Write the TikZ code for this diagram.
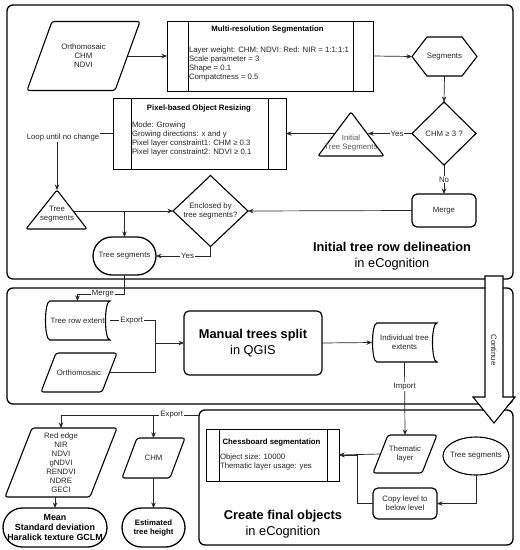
\documentclass[tikz,border=0pt]{standalone}
\usepackage{fontspec}
\setmainfont{Liberation Sans}
\usetikzlibrary{shapes.geometric,arrows.meta}
\begin{document}
\begin{tikzpicture}[x=1pt,y=-1pt,
  every node/.style={inner sep=0pt, outer sep=0pt},
  small/.style={font=\fontsize{7.8}{9}\selectfont, text=black!85},
  smallb/.style={font=\fontsize{7.8}{9}\selectfont\bfseries, text=black},
  big/.style={font=\fontsize{12.8}{16}\selectfont, text=black},
  panel/.style={draw, line width=1.3pt, rounded corners=6pt, fill=white},
  box/.style={draw, line width=0.8pt},
  shp/.style={draw, line width=1.1pt},
  para/.style={draw, line width=1.1pt, rounded corners=2.5pt},
  term/.style={draw, line width=1.3pt, rounded corners=19pt},
  conn/.style={draw=black!85, line width=0.7pt},
  arr/.style={conn, -{Stealth[length=5.5pt,width=4.5pt]}},
  lbl/.style={small, fill=white, inner sep=1pt},
]
\useasboundingbox (0,0) rectangle (520,550);

% ---------- panels ----------
\node[panel, minimum width=506pt, minimum height=274pt] (p1) at (260,142) {};
\node[panel, minimum width=506pt, minimum height=116pt] (p2) at (260,346) {};
\node[panel, minimum width=314pt, minimum height=135pt] (p3) at (356,477.5) {};

% ---------- continue arrow ----------
\draw[line width=1.1pt, fill=white] (485,276) -- (485,397) -- (473,397) -- (494,423) -- (515,397) -- (503,397) -- (503,276) -- cycle;
\node[small, rotate=-90] (cont) at (494,350) {Continue};

% ---------- panel 1 ----------
\node[small, align=center, minimum width=113pt, minimum height=69pt] (ortho) at (83.5,56) {Orthomosaic\\CHM\\NDVI};
\draw[para] ([xshift=25pt]ortho.north west) -- (ortho.north east) -- ([xshift=-25pt]ortho.south east) -- (ortho.south west) -- cycle;

\node[box, minimum width=206pt, minimum height=70pt] (mrs) at (270,56) {};
\draw[box] ([xshift=21pt]mrs.north west) -- ([xshift=21pt]mrs.south west)
           ([xshift=-20pt]mrs.north east) -- ([xshift=-20pt]mrs.south east);
\node[smallb, anchor=north] (mrsT) at (267.5,26) {Multi-resolution Segmentation};
\node[small, align=left, anchor=north west] (mrsB) at (189,46.5) {Layer weight: CHM: NDVI: Red: NIR = 1:1:1:1\\Scale parameter = 3\\Shape = 0.1\\Compatctness = 0.5};

\node[small, minimum width=65pt, minimum height=39pt] (hex) at (444.5,56.5) {Segments};
\draw[shp] (hex.west) -- ([xshift=15pt]hex.north west) -- ([xshift=-15pt]hex.north east) -- (hex.east) -- ([xshift=-15pt]hex.south east) -- ([xshift=15pt]hex.south west) -- cycle;

\node[shp, diamond, aspect=1, minimum width=64pt, minimum height=63pt, small] (chm) at (444,133.5) {CHM ≥ 3 ?};

\coordinate (tri1T) at (351,112);
\coordinate (tri1R) at (384,156);
\coordinate (tri1L) at (318,156);
\coordinate (tri1E) at (368,133.5);
\coordinate (tri1W) at (334,133.5);
\draw[shp, rounded corners=2pt] (tri1T) -- (tri1R) -- (tri1L) -- cycle;
\node[small, text=black!65, align=center] (tri1) at (351,142.5) {Initial\\Tree Segments};

\node[box, minimum width=173pt, minimum height=71pt] (pix) at (199.5,133.5) {};
\draw[box] ([xshift=18pt]pix.north west) -- ([xshift=18pt]pix.south west)
           ([xshift=-18pt]pix.north east) -- ([xshift=-18pt]pix.south east);
\node[smallb, anchor=north] (pixT) at (199,105) {Pixel-based Object Resizing};
\node[small, align=left, anchor=north west] (pixB) at (132,122) {Mode: Growing\\Growing directions: x and y\\Pixel layer constraint1: CHM ≥ 0.3\\Pixel layer constraint2: NDVI ≥ 0.1};

\coordinate (tri2T) at (57,190);
\coordinate (tri2R) at (87,229);
\coordinate (tri2L) at (26,229);
\coordinate (tri2E) at (74,211);
\draw[shp, rounded corners=2pt] (tri2T) -- (tri2R) -- (tri2L) -- cycle;
\node[small, align=center] (tri2) at (57,214.5) {Tree\\segments};

\node[shp, diamond, aspect=1, minimum width=75pt, minimum height=71pt, small, align=center] (encl) at (210.5,211) {Enclosed by\\tree segments?};

\node[shp, line width=1.2pt, rounded corners=5pt, minimum width=64pt, minimum height=33pt, small] (merge) at (444,210.5) {Merge};

\node[term, minimum width=63pt, minimum height=38pt, small] (term1) at (124.5,256) {Tree segments};

\node[big, align=center] (t1) at (392,256) {\textbf{Initial tree row delineation}\\in eCognition};

% connectors panel 1
\draw[arr] ([xshift=-12.5pt]ortho.east) -- (mrs.west);
\draw[arr] (mrs.east) -- (hex.west);
\draw[arr] (hex.south) -- (chm.north);
\draw[arr] (chm.west) -- node[lbl, pos=0.34]{Yes} (tri1E);
\draw[arr] (tri1W) -- (pix.east);
\draw[arr] (chm.south) -- node[lbl]{No} (merge.north);
\draw[arr] (merge.west) -- (encl.east);
\draw[arr] (pix.west) -| (tri2T);
\node[lbl] (loop) at (63,137) {Loop until no change};
\draw[arr] (tri2E) -- (encl.west);
\draw[arr] (tri2E) -| (term1.north);
\draw[arr] (encl.south) |- node[lbl, pos=0.71]{Yes} (term1.east);

% ---------- panel 2 ----------
\node[small, minimum width=65pt, minimum height=39pt] (tre) at (77.5,320.5) {Tree row extent};
\draw[shp] ([xshift=5pt]tre.north west) -- (tre.north east)
  .. controls ([xshift=-6pt]tre.north east) and ([xshift=-6pt]tre.south east) .. (tre.south east)
  -- ([xshift=5pt]tre.south west)
  .. controls ([xshift=-1pt]tre.south west) and ([xshift=-1pt]tre.north west) .. ([xshift=5pt]tre.north west) -- cycle;

\node[small, minimum width=76pt, minimum height=39pt] (ortho2) at (79,372.5) {Orthomosaic};
\draw[para] ([xshift=15pt]ortho2.north west) -- (ortho2.north east) -- ([xshift=-15pt]ortho2.south east) -- (ortho2.south west) -- cycle;

\node[shp, line width=1.2pt, rounded corners=5pt, minimum width=138pt, minimum height=64pt, big, align=center] (manual) at (253,343) {\textbf{Manual trees split}\\in QGIS};

\node[small, align=center, minimum width=65pt, minimum height=39pt] (ind) at (404.5,342.5) {Individual tree\\extents};
\draw[shp] ([xshift=5pt]ind.north west) -- (ind.north east)
  .. controls ([xshift=-6pt]ind.north east) and ([xshift=-6pt]ind.south east) .. (ind.south east)
  -- ([xshift=5pt]ind.south west)
  .. controls ([xshift=-1pt]ind.south west) and ([xshift=-1pt]ind.north west) .. ([xshift=5pt]ind.north west) -- cycle;

\draw[arr] (term1.south) -- ++(0,19) -| node[lbl, pos=0.23]{Merge} (tre.north);
\draw[arr] (tre.east) -| node[lbl, pos=0.24]{Export} ([xshift=-29pt]manual.west) -- (manual.west);
\draw[conn] ([xshift=-7.5pt]ortho2.east) -| ([xshift=-29pt]manual.west);
\draw[arr] (manual.east) -- (ind.west);

% ---------- panel 3 ----------
\node[small, align=center, minimum width=64pt, minimum height=38pt] (them) at (405,454) {Thematic\\layer};
\draw[para] ([xshift=15pt]them.north west) -- (them.north east) -- ([xshift=-15pt]them.south east) -- (them.south west) -- cycle;

\node[box, minimum width=133pt, minimum height=52pt] (chess) at (272.5,455) {};
\draw[box] ([xshift=13pt]chess.north west) -- ([xshift=13pt]chess.south west)
           ([xshift=-12pt]chess.north east) -- ([xshift=-12pt]chess.south east);
\node[smallb, anchor=north] (chessT) at (271.5,439) {Chessboard segmentation};
\node[small, align=left, anchor=north west] (chessB) at (220,454) {Object size: 10000\\Thematic layer usage: yes};

\node[shp, ellipse, minimum width=66pt, minimum height=38pt, label={[small]center:Tree segments}] (tseg) at (476,456) {};

\node[shp, line width=1.2pt, rounded corners=5pt, minimum width=64pt, minimum height=31pt, small, align=center] (copy) at (405,503.5) {Copy level to\\below level};

\node[big, align=center] (t3) at (283,524) {\textbf{Create final objects}\\in eCognition};

\draw[arr] (ind.south) -- node[lbl, pos=0.34]{Import} (them.north);
\draw[arr] ([xshift=7.5pt]them.west) -- (chess.east);
\draw[arr] (copy.west) -| ([xshift=18pt]chess.east) -- (chess.east);
\draw[arr] (tseg.south) |- (copy.east);

% ---------- bottom left ----------
\node[small, align=center, minimum width=112pt, minimum height=69pt] (list) at (61,462.5) {Red edge\\NIR\\NDVI\\gNDVI\\RENDVI\\NDRE\\GECI};
\draw[para] ([xshift=27pt]list.north west) -- (list.north east) -- ([xshift=-27pt]list.south east) -- (list.south west) -- cycle;

\node[small, minimum width=63pt, minimum height=40pt] (chm2) at (153.5,458) {CHM};
\draw[para] ([xshift=15pt]chm2.north west) -- (chm2.north east) -- ([xshift=-15pt]chm2.south east) -- (chm2.south west) -- cycle;

\node[term, rounded corners=19.5pt, minimum width=104pt, minimum height=39pt, font=\fontsize{8.9}{9.7}\selectfont\bfseries, align=center] (mean) at (55,527.5) {Mean\\Standard deviation\\Haralick texture GCLM};
\node[term, rounded corners=19.5pt, minimum width=63pt, minimum height=39pt, smallb, align=center] (est) at (153.5,527.5) {Estimated\\tree height};

\coordinate (exp) at ([yshift=-5pt]p3.north west);
\draw[arr] (exp) -| (list.north);
\draw[arr] (exp) -| node[lbl, pos=0.3]{Export} (chm2.north);
\draw[arr] (mean.north |- list.south) -- (mean.north);
\draw[arr] (chm2.south) -- (est.north);
\end{tikzpicture}
\end{document}
